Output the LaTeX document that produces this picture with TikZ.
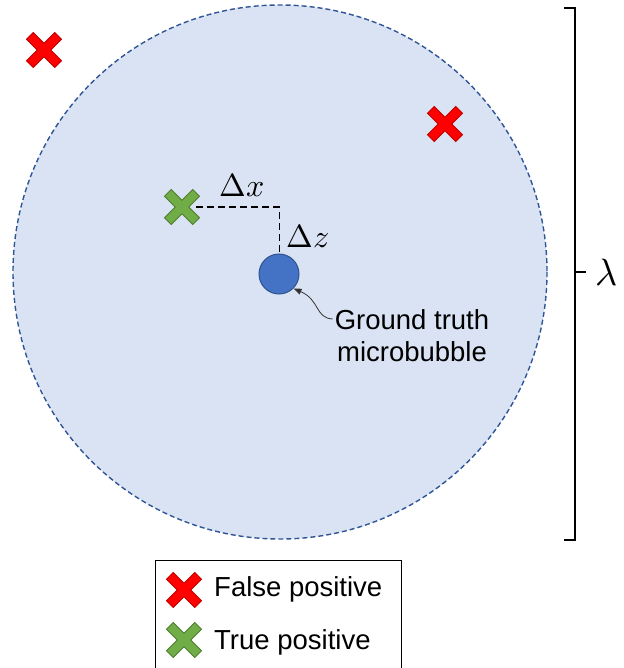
\documentclass[tikz,border=0pt]{standalone}
\usepackage{fontspec}
\setmainfont{Liberation Sans}
\usepackage{unicode-math}
\setmathfont{Latin Modern Math}
\usetikzlibrary{arrows.meta}
\definecolor{zonefill}{HTML}{DAE3F3}
\definecolor{zoneline}{HTML}{2F5597}
\definecolor{dotfill}{HTML}{4472C4}
\definecolor{dotline}{HTML}{2F528F}
\definecolor{fpfill}{HTML}{FF0000}
\definecolor{fpline}{HTML}{C00000}
\definecolor{tpfill}{HTML}{70AD47}
\definecolor{tpline}{HTML}{507E32}
\tikzset{
  crossmark/.pic={
    \draw[line width=0.8pt, line join=miter, rotate=45, pic actions]
      (-4.8,-20) -- (4.8,-20) -- (4.8,-4.8) -- (20,-4.8) -- (20,4.8) -- (4.8,4.8)
      -- (4.8,20) -- (-4.8,20) -- (-4.8,4.8) -- (-20,4.8) -- (-20,-4.8) -- (-4.8,-4.8) -- cycle;
  },
  fpmark/.style={fill=fpfill, draw=fpline},
  tpmark/.style={fill=tpfill, draw=tpline},
  lbl/.style={font=\fontsize{27.5}{32}\selectfont, inner sep=0pt},
  mathlbl/.style={font=\fontsize{32}{36}\selectfont, inner sep=0pt},
}
\begin{document}
\begin{tikzpicture}[x=1pt,y=-1pt]
\useasboundingbox (0,0) rectangle (623,668);
% zone
\draw[fill=zonefill, draw=zoneline, dash pattern=on 5pt off 3pt, line width=1.4pt] (280,272) circle[radius=267];
% dashed offsets
\coordinate (corner) at (279,207);
\node[circle, minimum size=40pt, inner sep=0pt, fill=dotfill, draw=dotline, line width=1pt] (mb) at (279,274) {};
\coordinate (tp) at (182,207);
\draw[line width=1pt, dash pattern=on 7pt off 4pt] (tp) ++(14,0) -- (corner) -- (mb.north);
\node[mathlbl] (dx) at (242,185) {$\Delta x$};
\node[mathlbl] (dz) at (308,236) {$\Delta z$};
% marks
\pic[fpmark] (fp1) at (44,50) {crossmark};
\pic[fpmark] (fp2) at (445,124) {crossmark};
\pic[tpmark] (tp1) at (tp) {crossmark};
% annotation
\node[lbl, align=center] (gt) at (412,336) {Ground truth\\microbubble};
\draw[-{Triangle[length=8pt,width=6pt]}, line width=0.8pt, black!80] (gt.west) ++(-2,-17) .. controls (315,318) and (320,300) .. (mb.south east);
% bracket
\coordinate (btop) at (575,8);
\coordinate (bbot) at (575,540);
\draw[line width=1.6pt] (564,8) -- (btop) -- (bbot) -- (564,540);
\coordinate (bmid) at (575,272);
\draw[line width=1.6pt] (bmid) -- (586,272);
\node[font=\fontsize{38}{40}\selectfont, inner sep=0pt] (lam) at (607,273) {$\lambda$};
% legend
\node[draw, line width=1pt, minimum width=246pt, minimum height=112pt, anchor=north west] (leg) at (155,560) {};
\pic[fpmark] (lfp) at (184,590) {crossmark};
\pic[tpmark] (ltp) at (184,640) {crossmark};
\node[lbl, anchor=west] (lfpt) at (214,589) {False positive};
\node[lbl, anchor=west] (ltpt) at (214,642) {True positive};
\end{tikzpicture}
\end{document}
